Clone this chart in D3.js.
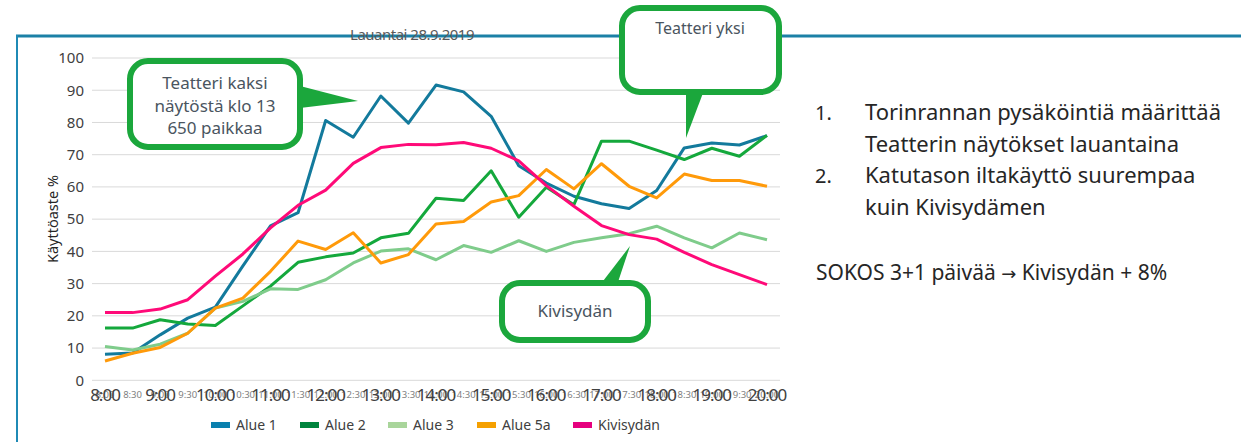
<!DOCTYPE html>
<html>
<head>
<meta charset="utf-8">
<script src="https://cdn.jsdelivr.net/npm/d3@7"></script>
<style>
  body { margin: 0; background: #fff; }
  svg { display: block; font-family: "Noto Sans", "Open Sans", sans-serif; }
</style>
</head>
<body>
<svg width="1241" height="442"></svg>
<script>
var times = ["8:00","8:30","9:00","9:30","10:00","10:30","11:00","11:30","12:00","12:30",
  "13:00","13:30","14:00","14:30","15:00","15:30","16:00","16:30","17:00","17:30",
  "18:00","18:30","19:00","19:30","20:00"];

var alue1 = [8.1, 8.5, 14.1, 19.3, 22.7, 35.5, 47.9, 52, 80.6, 75.4, 88.2, 79.8, 91.6,
  89.5, 81.9, 66.6, 61.2, 57.1, 54.8, 53.3, 58.9, 72.1, 73.6, 73, 75.9];
var alue2 = [16.2, 16.2, 18.8, 17.5, 17, 23.1, 29.2, 36.6, 38.3, 39.5, 44.2, 45.6, 56.5,
  55.8, 65, 50.6, 59.9, 54.5, 74.2, 74.2, 71.4, 68.5, 72, 69.5, 76];
var alue3 = [10.5, 9.4, 11.2, 14.6, 22.4, 24.5, 28.4, 28.2, 31.2, 36.4, 40.1, 40.8, 37.4,
  41.8, 39.7, 43.3, 40, 42.8, 44.2, 45.5, 47.8, 44.2, 41.1, 45.7, 43.6];
var alue5a = [6, 8.4, 10.2, 14.6, 22.4, 25.5, 33.8, 43.2, 40.6, 45.8, 36.4, 39, 48.5,
  49.3, 55.3, 57.3, 65.4, 59.4, 67.2, 60.2, 56.6, 64, 62, 62, 60.2];
var kivisydan = [21, 21, 22.1, 25, 32.3, 39.2, 47.3, 54.3, 59, 67.3, 72.2, 73.2, 73.1,
  73.8, 72, 68.1, 60.4, 54, 48, 45.2, 43.8, 39.7, 35.9, 32.8, 29.7];

var seriesNames = ["Alue 1", "Alue 2", "Alue 3", "Alue 5a", "Kivisydän"];
var seriesValues = [alue1, alue2, alue3, alue5a, kivisydan];
var lineColors = ["#137a9c", "#14a83c", "#7fcc8b", "#ff9a0a", "#ff0a78"];
var legendColors = ["#0a80ae", "#00843d", "#a9d59b", "#f5a000", "#e6007e"];
var yTicks = [0, 10, 20, 30, 40, 50, 60, 70, 80, 90, 100];

var notes = ["Torinrannan pysäköintiä määrittää", "Teatterin näytökset lauantaina",
  "Katutason iltakäyttö suurempaa", "kuin Kivisydämen"];

var svg = d3.select("svg");

var x = d3.scalePoint().domain(times).range([105, 767]);
var y = d3.scaleLinear().domain([0, 100]).range([380.3, 58]);

// frame
svg.append("line").attr("x1", 16).attr("x2", 1241).attr("y1", 36).attr("y2", 36)
  .attr("stroke", "#1b80a6").attr("stroke-width", 3);
svg.append("line").attr("x1", 17).attr("x2", 17).attr("y1", 35).attr("y2", 442)
  .attr("stroke", "#1f8ab5").attr("stroke-width", 2);

// gridlines
svg.append("g").selectAll("line").data(yTicks).enter().append("line")
  .attr("x1", 92).attr("x2", 780)
  .attr("y1", function(d) { return y(d); }).attr("y2", function(d) { return y(d); })
  .attr("stroke", "#d9d9d9").attr("stroke-width", 1);

var yAxis = svg.append("g").attr("transform", "translate(86,0)")
  .call(d3.axisLeft(y).tickValues(yTicks).tickSize(0).tickPadding(2));
yAxis.select(".domain").remove();
yAxis.selectAll("text").attr("font-size", 15).attr("fill", "#404040")
  .attr("font-family", "Noto Sans");

svg.append("text").attr("transform", "translate(58,219) rotate(-90)")
  .attr("text-anchor", "middle").attr("font-size", 14.5).attr("fill", "#262626")
  .text("Käyttöaste %");

// x labels: small for every half hour, large for hours
svg.append("g").selectAll("text").data(times).enter().append("text")
  .attr("x", function(d) { return x(d); }).attr("y", 398)
  .attr("text-anchor", "middle").attr("font-size", 9.5).attr("fill", "#808080")
  .text(function(d) { return d; });
svg.append("g").selectAll("text").data(times.filter(function(d) { return d.indexOf(":00") > 0; }))
  .enter().append("text")
  .attr("x", function(d) { return x(d); }).attr("y", 401)
  .attr("text-anchor", "middle").attr("font-size", 17).attr("letter-spacing", -1)
  .attr("fill", "#404040")
  .text(function(d) { return d; });

// lines
var line = d3.line()
  .x(function(d, i) { return x(times[i]); })
  .y(function(d) { return y(d); });

svg.append("g").selectAll("path").data(seriesValues).enter().append("path")
  .attr("d", line)
  .attr("fill", "none")
  .attr("stroke", function(d, i) { return lineColors[i]; })
  .attr("stroke-width", 3)
  .attr("stroke-linejoin", "round");

// title
svg.append("text").attr("x", 412).attr("y", 40).attr("text-anchor", "middle")
  .attr("font-size", 15).attr("letter-spacing", -0.5).attr("fill", "#595959")
  .text("Lauantai 28.9.2019");

// legend
var legend = svg.append("g").selectAll("g").data(seriesNames).enter().append("g")
  .attr("transform", function(d, i) { return "translate(" + [211, 300, 388, 477, 573][i] + ",425)"; });
legend.append("rect").attr("x", 0).attr("y", -3).attr("width", 19).attr("height", 6)
  .attr("fill", function(d, i) { return legendColors[i]; });
legend.append("text").attr("x", 25).attr("y", 5).attr("font-size", 14).attr("fill", "#404040")
  .text(function(d) { return d; });

// callouts
var green = "#1ba73c";
function callout(bx, by, bw, bh, tri, lines, tx, ty, fs, lh) {
  var g = svg.append("g");
  g.append("rect").attr("x", bx).attr("y", by).attr("width", bw).attr("height", bh)
    .attr("rx", 18).attr("fill", "#fff").attr("stroke", green).attr("stroke-width", 6);
  g.append("path").attr("d", "M" + tri.join("L") + "Z").attr("fill", green);
  g.selectAll("text").data(lines).enter().append("text")
    .attr("x", tx).attr("y", function(d, i) { return ty + i * lh; })
    .attr("text-anchor", "middle").attr("font-size", fs).attr("fill", "#4a5560")
    .text(function(d) { return d; });
}
callout(130, 61, 170, 86, [[300, 86], [358, 101], [300, 108]],
  ["Teatteri kaksi", "näytöstä klo 13", "650 paikkaa"], 215, 89, 17, 22.5);
callout(622, 8, 157, 84, [[686, 93], [686, 138], [703, 93]],
  ["Teatteri yksi"], 700, 34, 16, 20);
callout(502, 283, 146, 57, [[600, 285], [630, 246], [617, 285]],
  ["Kivisydän"], 575, 317, 17, 20);

// notes on the right
var nt = svg.append("g").attr("font-size", 22).attr("fill", "#262626");
nt.append("text").attr("x", 815).attr("y", 120).attr("font-size", 20).text("1.");
nt.append("text").attr("x", 815).attr("y", 183).attr("font-size", 20).text("2.");
nt.selectAll("text.n").data(notes).enter().append("text").attr("class", "n")
  .attr("x", 865).attr("y", function(d, i) { return 120 + i * 31.7; })
  .text(function(d) { return d; });
var sokos = nt.append("text").attr("x", 816).attr("y", 280).attr("font-size", 21);
sokos.append("tspan").text("SOKOS 3+1 päivää ");
sokos.append("tspan").attr("font-family", "DejaVu Sans").attr("font-size", 18).text("→");
sokos.append("tspan").text(" Kivisydän + 8%");
</script>
</body>
</html>
